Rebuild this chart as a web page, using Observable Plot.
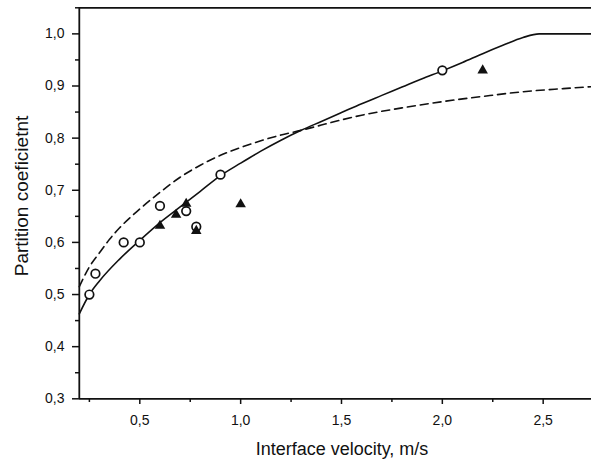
<!DOCTYPE html>
<html>
<head>
<meta charset="utf-8">
<script src="https://cdn.jsdelivr.net/npm/d3@7"></script>
<script src="https://cdn.jsdelivr.net/npm/@observablehq/plot@0.6"></script>
<style>
  html, body { margin: 0; padding: 0; background: #fff; }
  svg { display: block; }
</style>
</head>
<body>
<div id="chart"></div>
<script>
// Solid model curve
const solidX = [0.2, 0.25, 0.3, 0.4, 0.5, 0.6, 0.7, 0.8, 0.9, 1.0, 1.1, 1.2, 1.3, 1.4, 1.5, 1.6, 1.7, 1.8, 1.9, 2.0, 2.1, 2.2, 2.3, 2.4, 2.48, 2.75];
const solidY = [0.463, 0.50, 0.526, 0.568, 0.604, 0.638, 0.668, 0.698, 0.728, 0.752, 0.775, 0.796, 0.815, 0.832, 0.849, 0.866, 0.882, 0.898, 0.914, 0.929, 0.945, 0.962, 0.978, 0.993, 1.0, 1.0];
// Dashed model curve
const dashX = [0.2, 0.25, 0.3, 0.35, 0.4, 0.5, 0.6, 0.7, 0.8, 0.9, 1.0, 1.1, 1.2, 1.3, 1.4, 1.5, 1.6, 1.8, 2.0, 2.2, 2.4, 2.6, 2.75];
const dashY = [0.515, 0.553, 0.58, 0.606, 0.628, 0.664, 0.696, 0.725, 0.748, 0.767, 0.782, 0.795, 0.806, 0.815, 0.825, 0.835, 0.844, 0.858, 0.870, 0.880, 0.889, 0.895, 0.899];
// Open circles (experiment 1)
const circleX = [0.25, 0.28, 0.42, 0.50, 0.60, 0.73, 0.78, 0.90, 2.00];
const circleY = [0.50, 0.54, 0.60, 0.60, 0.67, 0.66, 0.63, 0.73, 0.93];
// Filled triangles (experiment 2)
const triX = [0.60, 0.68, 0.73, 0.78, 1.00, 2.20];
const triY = [0.632, 0.653, 0.674, 0.622, 0.673, 0.93];
// Ticks
const xMajor = [0.5, 1.0, 1.5, 2.0, 2.5];
const xMinor = [0.25, 0.75, 1.25, 1.75, 2.25, 2.75];
const yMajor = [0.3, 0.4, 0.5, 0.6, 0.7, 0.8, 0.9, 1.0];
const yMinor = [0.35, 0.45, 0.55, 0.65, 0.75, 0.85, 0.95, 1.05];
const xTitle = "Interface velocity, m/s";
const yTitle = "Partition coeficietnt";

const zip = (xs, ys) => xs.map((x, i) => ({x, y: ys[i]}));
const solid = zip(solidX, solidY);
const dashed = zip(dashX, dashY);
const circles = zip(circleX, circleY);
const tris = zip(triX, triY);
const comma = d => d3.format(".1f")(d).replace(".", ",");

const W = 591, H = 461;
const plot = Plot.plot({
  width: W, height: H,
  marginLeft: 79, marginRight: 0, marginTop: 7, marginBottom: 63,
  style: {fontFamily: "'Liberation Sans', Arial, sans-serif", fontSize: "14px", background: "#fff", color: "#111"},
  x: {domain: [0.2, 2.75], range: [78.8, 593.1]},
  y: {domain: [0.3, 1.05], range: [398.3, 7.3]},
  marks: [
    Plot.axisX({ticks: xMajor, tickFormat: comma, tickSize: 6, tickPadding: 11, strokeWidth: 1.5, label: null}),
    Plot.axisX({ticks: xMinor, tickFormat: () => "", tickSize: 4, strokeWidth: 1.5, label: null}),
    Plot.axisY({ticks: yMajor, tickFormat: comma, tickSize: 7, tickPadding: 8, strokeWidth: 1.5, label: null}),
    Plot.axisY({ticks: yMinor, tickFormat: () => "", tickSize: 4, strokeWidth: 1.5, label: null}),
    Plot.ruleY([0.3], {stroke: "#111", strokeWidth: 1.8}),
    Plot.ruleY([1.05], {stroke: "#111", strokeWidth: 1.8}),
    Plot.ruleX([0.2], {stroke: "#111", strokeWidth: 1.8}),
    Plot.line(dashed, {x: "x", y: "y", stroke: "#111", strokeWidth: 1.6, strokeDasharray: "8,5", curve: "monotone-x"}),
    Plot.line(solid, {x: "x", y: "y", stroke: "#111", strokeWidth: 1.6, curve: "monotone-x"}),
    Plot.dot(circles, {x: "x", y: "y", r: 4.3, fill: "#fff", stroke: "#111", strokeWidth: 1.7}),
    Plot.dot(tris, {x: "x", y: "y", symbol: "triangle", r: 3.9, fill: "#111", stroke: "none"})
  ]
});

const svg = d3.select(plot);
svg.append("text")
  .attr("x", 342).attr("y", 455)
  .attr("text-anchor", "middle")
  .attr("font-size", 18)
  .attr("fill", "#111")
  .text(xTitle);
svg.append("text")
  .attr("transform", "translate(28,196) rotate(-90)")
  .attr("text-anchor", "middle")
  .attr("font-size", 19)
  .attr("fill", "#111")
  .text(yTitle);

document.getElementById("chart").appendChild(plot);
</script>
</body>
</html>
